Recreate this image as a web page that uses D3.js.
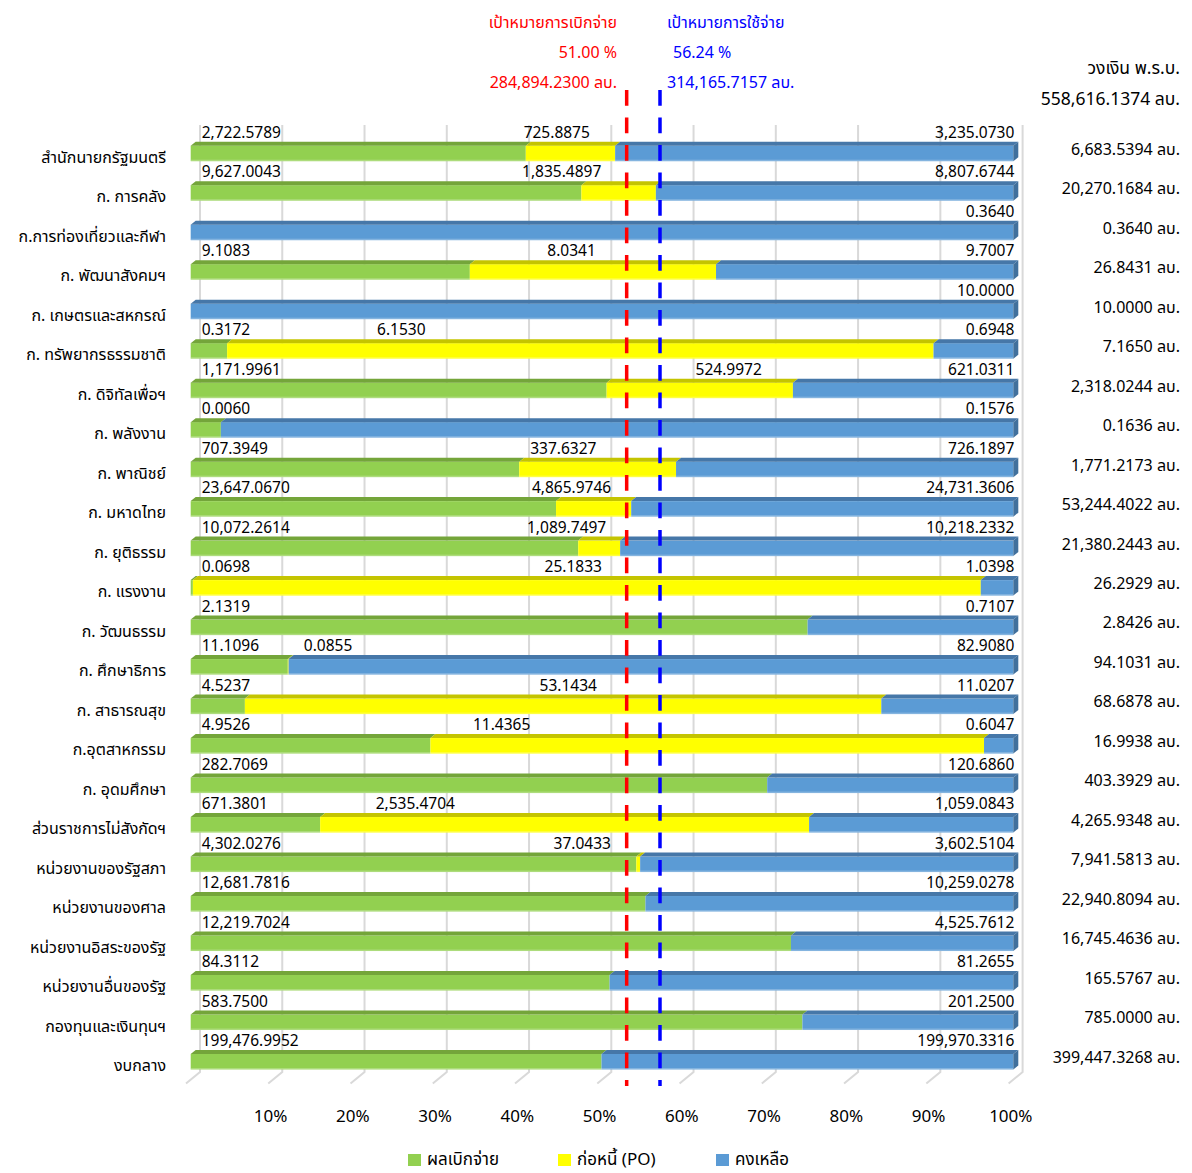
<!DOCTYPE html>
<html>
<head>
<meta charset="utf-8">
<script src="https://cdn.jsdelivr.net/npm/d3@7"></script>
<style>
  body { margin: 0; background: #fff; }
  svg { display: block; font-family: Tahoma, "Noto Sans Thai", "Noto Sans", "DejaVu Sans", sans-serif; }
</style>
</head>
<body>
<svg id="chart" width="1192" height="1173"></svg>
<script>
// ---------------- data ----------------
const categories = [
  "สำนักนายกรัฐมนตรี", "ก. การคลัง", "ก.การท่องเที่ยวและกีฬา", "ก. พัฒนาสังคมฯ",
  "ก. เกษตรและสหกรณ์", "ก. ทรัพยากรธรรมชาติ", "ก. ดิจิทัลเพื่อฯ", "ก. พลังงาน",
  "ก. พาณิชย์", "ก. มหาดไทย", "ก. ยุติธรรม", "ก. แรงงาน",
  "ก. วัฒนธรรม", "ก. ศึกษาธิการ", "ก. สาธารณสุข", "ก.อุตสาหกรรม",
  "ก. อุดมศึกษา", "ส่วนราชการไม่สังกัดฯ", "หน่วยงานของรัฐสภา", "หน่วยงานของศาล",
  "หน่วยงานอิสระของรัฐ", "หน่วยงานอื่นของรัฐ", "กองทุนและเงินทุนฯ", "งบกลาง"
];
const disbursed = [
  2722.5789, 9627.0043, 0, 9.1083,
  0, 0.3172, 1171.9961, 0.0060,
  707.3949, 23647.0670, 10072.2614, 0.0698,
  2.1319, 11.1096, 4.5237, 4.9526,
  282.7069, 671.3801, 4302.0276, 12681.7816,
  12219.7024, 84.3112, 583.7500, 199476.9952
];
const committedPO = [
  725.8875, 1835.4897, 0, 8.0341,
  0, 6.1530, 524.9972, 0,
  337.6327, 4865.9746, 1089.7497, 25.1833,
  0, 0.0855, 53.1434, 11.4365,
  0, 2535.4704, 37.0433, 0,
  0, 0, 0, 0
];
const remaining = [
  3235.0730, 8807.6744, 0.3640, 9.7007,
  10.0000, 0.6948, 621.0311, 0.1576,
  726.1897, 24731.3606, 10218.2332, 1.0398,
  0.7107, 82.9080, 11.0207, 0.6047,
  120.6860, 1059.0843, 3602.5104, 10259.0278,
  4525.7612, 81.2655, 201.2500, 199970.3316
];
const budgetTotals = [
  6683.5394, 20270.1684, 0.3640, 26.8431,
  10.0000, 7.1650, 2318.0244, 0.1636,
  1771.2173, 53244.4022, 21380.2443, 26.2929,
  2.8426, 94.1031, 68.6878, 16.9938,
  403.3929, 4265.9348, 7941.5813, 22940.8094,
  16745.4636, 165.5767, 785.0000, 399447.3268
];
const seriesNames = ["ผลเบิกจ่าย", "ก่อหนี้ (PO)", "คงเหลือ"];
const tickValues = [0.1, 0.2, 0.3, 0.4, 0.5, 0.6, 0.7, 0.8, 0.9, 1.0];
const targetTitles = ["เป้าหมายการเบิกจ่าย", "เป้าหมายการใช้จ่าย"];
const targetPercents = [51.00, 56.24];
const targetAmounts = [284894.2300, 314165.7157];
const totalBudgetTitle = "วงเงิน พ.ร.บ.";
const totalBudget = 558616.1374;

// ---------------- layout (not data) ----------------
// where the PO value labels were placed on the original (share of the bar)
const poLabelAt = [
  0.445, 0.451, null, 0.463,
  null, 0.256, 0.654, null,
  0.453, 0.463, 0.457, 0.465,
  null, 0.167, 0.459, 0.378,
  null, 0.273, 0.476, null,
  null, null, null, null
];
// where the dashed target markers were drawn (share of the bar)
const markerAt = [0.530, 0.5705];

const colors = {
  front: ["#92D050", "#FFFF00", "#5B9BD5"],
  top:   ["#74A53A", "#C4C400", "#4677A8"],
  side:  ["#6E9E36", "#BDBD00", "#41709C"]
};

const svg = d3.select("#chart");
const x = d3.scaleLinear().domain([0, 1]).range([190.7, 1013.3]);
const y = d3.scaleBand().domain(categories).range([141.7, 1069.5]).paddingInner(0.506).paddingOuter(0);
const TOP = 4, DX = 5;
const fmt = d3.format(",.4f");
const INK = "#000";

// rows
const rows = categories.map((c, i) => {
  const vals = [disbursed[i], committedPO[i], remaining[i]];
  const sum = d3.sum(vals);
  let acc = 0;
  const segs = vals.map((v, k) => {
    const s = { k, v, x0: acc / sum, x1: (acc + v) / sum };
    acc += v;
    return s;
  });
  return { c, i, segs, total: budgetTotals[i] };
});

// gridlines (back wall) + floor diagonals
const grid = svg.append("g");
const gridVals = d3.range(0, 11).map(d => d / 10);
grid.selectAll("path").data(gridVals).join("path")
  .attr("d", v => `M${x(v) + 9.3},125 L${x(v) + 9.3},1072 L${x(v) - 4.7},1083.5`)
  .attr("fill", "none").attr("stroke", "#D9D9D9").attr("stroke-width", 2);

// bars
const barG = svg.append("g");
rows.forEach(r => {
  const top = y(r.c);
  const fy = top + TOP;
  const h = y.bandwidth() - TOP;
  const g = barG.append("g");
  const segs = r.segs.filter(s => s.v > 0);
  g.selectAll("rect.front").data(segs).join("rect")
    .attr("class", "front")
    .attr("x", s => x(s.x0)).attr("y", fy)
    .attr("width", s => Math.max(0.8, x(s.x1) - x(s.x0))).attr("height", h)
    .attr("fill", s => colors.front[s.k]);
  g.selectAll("path.top").data(segs).join("path")
    .attr("class", "top")
    .attr("d", s => `M${x(s.x0)},${fy} L${x(s.x1)},${fy} L${x(s.x1) + DX},${fy - TOP} L${x(s.x0) + DX},${fy - TOP} Z`)
    .attr("fill", s => colors.top[s.k]);
  g.selectAll("rect.edge").data(segs).join("rect")
    .attr("class", "edge")
    .attr("x", s => x(s.x0)).attr("y", fy + h - 1.5)
    .attr("width", s => Math.max(0.8, x(s.x1) - x(s.x0))).attr("height", 1.5)
    .attr("fill", "#fff").attr("opacity", 0.25);
  const last = segs[segs.length - 1];
  g.append("path")
    .attr("d", `M${x(last.x1)},${fy} L${x(last.x1) + DX},${fy - TOP} L${x(last.x1) + DX},${fy + h - TOP} L${x(last.x1)},${fy + h} Z`)
    .attr("fill", colors.side[last.k]);
});

// marker lines
const markerColors = ["#FF0000", "#0000FF"];
svg.append("g").selectAll("line").data(markerAt).join("line")
  .attr("x1", d => x(d)).attr("x2", d => x(d))
  .attr("y1", 90).attr("y2", 1086)
  .attr("stroke", (d, i) => markerColors[i]).attr("stroke-width", 3.5)
  .attr("stroke-dasharray", "15.8,11.7");

// value labels
const lab = svg.append("g").attr("font-size", 15.5).attr("fill", INK);
rows.forEach(r => {
  const top = y(r.c);
  const ly = top - 4;
  if (disbursed[r.i] > 0) {
    lab.append("text").attr("x", x(0) + 11).attr("y", ly).text(fmt(disbursed[r.i]));
  }
  if (committedPO[r.i] > 0 && poLabelAt[r.i] != null) {
    lab.append("text").attr("x", x(poLabelAt[r.i])).attr("y", ly)
      .attr("text-anchor", "middle").text(fmt(committedPO[r.i]));
  }
  if (remaining[r.i] > 0) {
    lab.append("text").attr("x", x(1) + 1).attr("y", ly)
      .attr("text-anchor", "end").text(fmt(remaining[r.i]));
  }
});

// category labels
svg.append("g").attr("font-size", 16).attr("fill", INK)
  .selectAll("text").data(rows).join("text")
  .attr("x", 166).attr("y", r => y(r.c) + 15.5).attr("dy", "0.35em")
  .attr("text-anchor", "end").text(r => r.c);

// totals column
svg.append("g").attr("font-size", 16).attr("fill", INK)
  .selectAll("text").data(rows).join("text")
  .attr("x", 1180).attr("y", r => y(r.c) + 7.3).attr("dy", "0.35em")
  .attr("text-anchor", "end").text(r => fmt(r.total) + " ลบ.");

// header: total budget
svg.append("text").attr("x", 1180).attr("y", 68).attr("dy", "0.35em")
  .attr("text-anchor", "end").attr("font-size", 17.5).attr("fill", INK).text(totalBudgetTitle);
svg.append("text").attr("x", 1180).attr("y", 99).attr("dy", "0.35em")
  .attr("text-anchor", "end").attr("font-size", 17.5).attr("fill", INK).text(fmt(totalBudget) + " ลบ.");

// header: targets
const hdr = svg.append("g").attr("font-size", 16);
[0, 1].forEach(i => {
  const anchor = i === 0 ? "end" : "start";
  const hx = i === 0 ? 617 : 667;
  const col = markerColors[i];
  hdr.append("text").attr("x", hx).attr("y", 22).attr("dy", "0.35em")
    .attr("text-anchor", anchor).attr("fill", col).text(targetTitles[i]);
  hdr.append("text").attr("x", i === 0 ? hx : hx + 6).attr("y", 52).attr("dy", "0.35em")
    .attr("text-anchor", anchor).attr("fill", col).text(d3.format(".2f")(targetPercents[i]) + " %");
  hdr.append("text").attr("x", hx).attr("y", 82).attr("dy", "0.35em")
    .attr("text-anchor", anchor).attr("fill", col).text(fmt(targetAmounts[i]) + " ลบ.");
});

// x axis
const axis = d3.axisBottom(x).tickValues(tickValues).tickFormat(d3.format(".0%")).tickSize(0).tickPadding(0);
const ax = svg.append("g").attr("transform", "translate(-3,1110)").call(axis);
ax.select(".domain").remove();
ax.selectAll("text").attr("font-size", 17).attr("fill", INK)
  .attr("font-family", 'Tahoma, "Noto Sans Thai", "Noto Sans", "DejaVu Sans", sans-serif');

// legend
const legendX = [408, 558, 716];
const lg = svg.append("g");
seriesNames.forEach((n, i) => {
  lg.append("rect").attr("x", legendX[i]).attr("y", 1154).attr("width", 13).attr("height", 12)
    .attr("fill", colors.front[i]);
  lg.append("text").attr("x", legendX[i] + 19).attr("y", 1160).attr("dy", "0.3em")
    .attr("font-size", 17).attr("fill", INK).text(n);
});
</script>
</body>
</html>
